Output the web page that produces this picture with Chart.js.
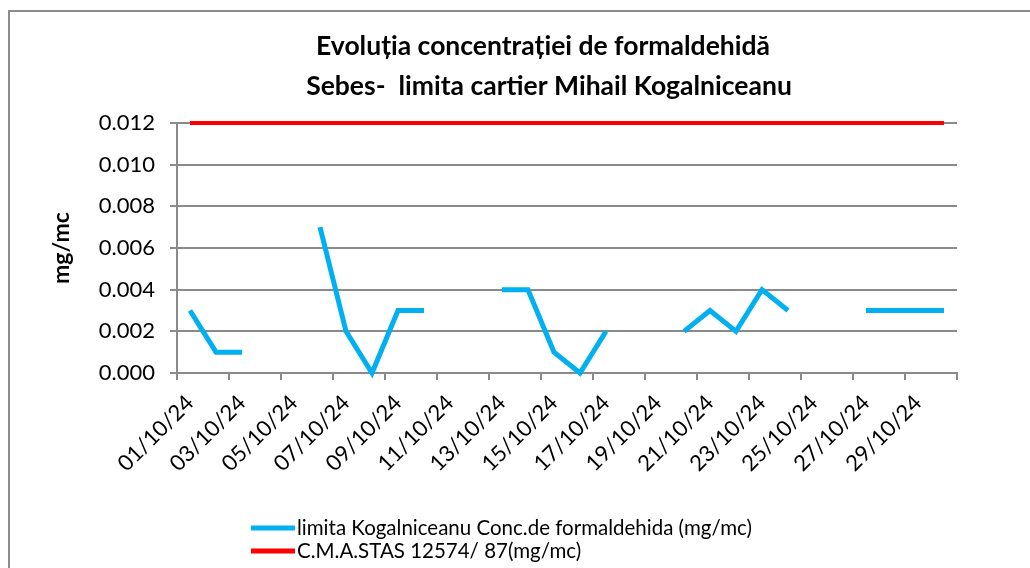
<!DOCTYPE html>
<html>
<head>
<meta charset="utf-8">
<script src="https://cdn.jsdelivr.net/npm/chart.js@4"></script>
<style>
  html, body { margin: 0; padding: 0; background: #ffffff; }
  #wrap { width: 1030px; height: 568px; position: relative; }
</style>
</head>
<body>
<div id="wrap"><canvas id="c" width="1030" height="568"></canvas></div>
<script>
// ---- data ----
const dates = [
  "01/10/24","02/10/24","03/10/24","04/10/24","05/10/24","06/10/24","07/10/24","08/10/24","09/10/24","10/10/24",
  "11/10/24","12/10/24","13/10/24","14/10/24","15/10/24","16/10/24","17/10/24","18/10/24","19/10/24","20/10/24",
  "21/10/24","22/10/24","23/10/24","24/10/24","25/10/24","26/10/24","27/10/24","28/10/24","29/10/24","30/10/24"
];
const formaldehida = [
  0.003, 0.001, 0.001, null, null, 0.007, 0.002, 0.000, 0.003, 0.003,
  null, null, 0.004, 0.004, 0.001, 0.000, 0.002, null, null, 0.002,
  0.003, 0.002, 0.004, 0.003, null, null, 0.003, 0.003, 0.003, 0.003
];
const cmaLimit = [
  0.012, 0.012, 0.012, 0.012, 0.012, 0.012, 0.012, 0.012, 0.012, 0.012,
  0.012, 0.012, 0.012, 0.012, 0.012, 0.012, 0.012, 0.012, 0.012, 0.012,
  0.012, 0.012, 0.012, 0.012, 0.012, 0.012, 0.012, 0.012, 0.012, 0.012
];
const seriesNames = [
  "limita Kogalniceanu Conc.de formaldehida (mg/mc)",
  "C.M.A.STAS 12574/ 87(mg/mc)"
];
const titleLines = [
  "Evoluția concentrației de formaldehidă",
  "Sebes-  limita cartier Mihail Kogalniceanu"
];
const yAxisTitle = "mg/mc";
const yMin = 0, yMax = 0.012, yStep = 0.002;

const FONT = "Lato, 'Open Sans', sans-serif";
const GRID = "#8a8a8a";

const framePlugin = {
  id: 'frame',
  beforeDraw(chart) {
    const ctx = chart.ctx;
    ctx.save();
    ctx.strokeStyle = "#8c8c8c";
    ctx.lineWidth = 2;
    ctx.strokeRect(9, 11, 1100, 700);
    ctx.restore();
  }
};

const titlePlugin = {
  id: 'customTitle',
  afterDraw(chart) {
    const ctx = chart.ctx;
    ctx.save();
    ctx.fillStyle = "#000000";
    ctx.font = "bold 26.5px " + FONT;
    ctx.textAlign = "center";
    ctx.textBaseline = "middle";
    ctx.fillText(titleLines[0], 543, 46);
    ctx.fillText(titleLines[1], 549, 86);
    ctx.restore();
  }
};

const legendPlugin = {
  id: 'customLegend',
  afterDraw(chart) {
    const ctx = chart.ctx;
    ctx.save();
    ctx.font = "20.5px " + FONT;
    ctx.textAlign = "left";
    ctx.textBaseline = "middle";
    const rows = [528, 551];
    chart.data.datasets.forEach((ds, i) => {
      const y = rows[i];
      ctx.strokeStyle = ds.borderColor;
      ctx.lineWidth = 5;
      ctx.beginPath();
      ctx.moveTo(251, y);
      ctx.lineTo(295, y);
      ctx.stroke();
      ctx.fillStyle = "#000000";
      ctx.fillText(ds.label, 297, y);
    });
    ctx.restore();
  }
};

new Chart(document.getElementById('c'), {
  type: 'line',
  data: {
    labels: dates,
    datasets: [
      {
        label: seriesNames[0],
        data: formaldehida,
        borderColor: "#00b0f0",
        backgroundColor: "#00b0f0",
        borderWidth: 5,
        pointRadius: 0,
        pointHoverRadius: 0,
        tension: 0,
        spanGaps: false,
        clip: false
      },
      {
        label: seriesNames[1],
        data: cmaLimit,
        borderColor: "#ff0000",
        backgroundColor: "#ff0000",
        borderWidth: 4,
        pointRadius: 0,
        pointHoverRadius: 0,
        tension: 0,
        clip: false
      }
    ]
  },
  options: {
    responsive: false,
    animation: false,
    devicePixelRatio: 1,
    layout: { padding: { left: 0, right: 73, top: 123, bottom: 75 } },
    plugins: {
      legend: { display: false },
      title: { display: false },
      tooltip: { enabled: false }
    },
    scales: {
      x: {
        type: 'category',
        offset: true,
        afterFit(scale) { scale.height = 120; },
        grid: {
          offset: true,
          drawOnChartArea: false,
          drawTicks: true,
          tickLength: 7,
          lineWidth: 2,
          color: (ctx) => (ctx.index === undefined || ctx.index % 2 === 0) ? GRID : 'rgba(0,0,0,0)'
        },
        border: { display: true, color: GRID, width: 2 },
        ticks: {
          autoSkip: false,
          minRotation: 45,
          maxRotation: 45,
          padding: 10,
          color: "#000000",
          font: { family: FONT, size: 22 },
          callback: function(value, index) { return index % 2 === 0 ? this.getLabelForValue(value) : ''; }
        }
      },
      y: {
        min: yMin,
        max: yMax,
        afterFit(scale) { scale.width = 177; },
        grid: {
          color: GRID,
          lineWidth: 2,
          drawTicks: true,
          tickLength: 7
        },
        border: { display: true, color: GRID, width: 2 },
        ticks: {
          stepSize: yStep,
          padding: 15,
          color: "#000000",
          font: { family: FONT, size: 22 },
          callback: (v) => Number(v).toFixed(3)
        },
        title: {
          display: true,
          text: yAxisTitle,
          color: "#000000",
          font: { family: FONT, size: 23, weight: 'bold' },
          padding: { top: 48, bottom: 0 }
        }
      }
    }
  },
  plugins: [framePlugin, titlePlugin, legendPlugin]
});
</script>
</body>
</html>
